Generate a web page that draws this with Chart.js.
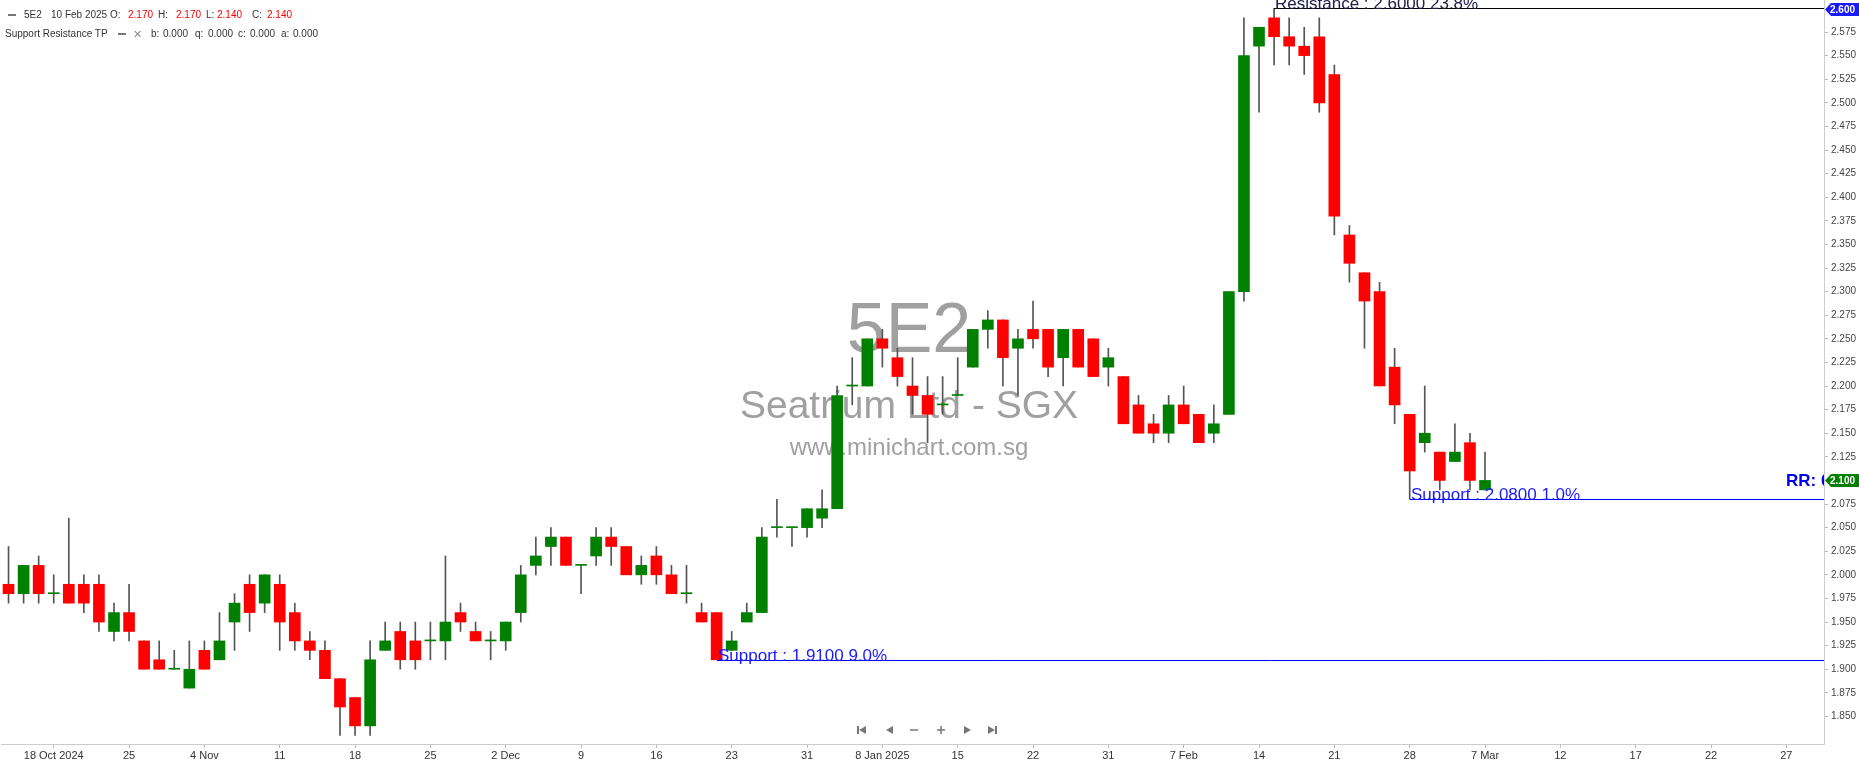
<!DOCTYPE html>
<html>
<head>
<meta charset="utf-8">
<script src="https://cdn.jsdelivr.net/npm/chart.js@4.4.1/dist/chart.umd.min.js"></script>
<style>
html, body { margin: 0; padding: 0; background: #fff; }
#wrap { position: relative; width: 1859px; height: 766px; overflow: hidden; }
#c { position: absolute; left: 0; top: 0; }
.hd { position: absolute; font: 10px "Liberation Sans", Arial, sans-serif; color: #333; white-space: nowrap; line-height: 12px; }
.red { color: #ff0000; }
.dash { position: absolute; height: 2px; width: 8px; background: #777; }
</style>
</head>
<body>
<div id="wrap">
<canvas id="c" width="1859" height="766"></canvas>
<div class="dash" style="left:8px;top:14px"></div>
<span class="hd" style="left:24px;top:9px">5E2</span>
<span class="hd" style="left:51px;top:9px">10 Feb 2025</span>
<span class="hd" style="left:110px;top:9px">O:</span>
<span class="hd red" style="left:128px;top:9px">2.170</span>
<span class="hd" style="left:158px;top:9px">H:</span>
<span class="hd red" style="left:176px;top:9px">2.170</span>
<span class="hd" style="left:206px;top:9px">L:</span>
<span class="hd red" style="left:217px;top:9px">2.140</span>
<span class="hd" style="left:252px;top:9px">C:</span>
<span class="hd red" style="left:267px;top:9px">2.140</span>
<span class="hd" style="left:5px;top:28px">Support Resistance TP</span>
<div class="dash" style="left:118px;top:33px"></div>
<span class="hd" style="left:133px;top:28px;color:#888;font-size:11px">✕</span>
<span class="hd" style="left:151px;top:28px">b:</span>
<span class="hd" style="left:163px;top:28px">0.000</span>
<span class="hd" style="left:195px;top:28px">q:</span>
<span class="hd" style="left:208px;top:28px">0.000</span>
<span class="hd" style="left:238px;top:28px">c:</span>
<span class="hd" style="left:250px;top:28px">0.000</span>
<span class="hd" style="left:281px;top:28px">a:</span>
<span class="hd" style="left:293px;top:28px">0.000</span>
</div>
<script>
// Seatrium (5E2) daily OHLC, 15 Oct 2024 -> 7 Mar 2025
const open = [
  1.99,1.98,2.01,1.98,1.99,1.99,1.99,1.94,1.96,1.93,
  1.91,1.90,1.88,1.92,1.91,1.95,1.99,1.97,1.99,1.96,
  1.93,1.92,1.89,1.87,1.84,1.92,1.94,1.93,1.93,1.93,
  1.96,1.94,1.93,1.93,1.96,2.01,2.03,2.04,2.01,2.02,
  2.04,2.03,2.00,2.02,2.00,1.98,1.96,1.96,1.92,1.95,
  1.96,2.05,2.05,2.05,2.06,2.07,2.20,2.20,2.25,2.23,
  2.20,2.19,2.18,2.19,2.22,2.26,2.27,2.24,2.26,2.26,
  2.23,2.26,2.25,2.22,2.21,2.18,2.16,2.15,2.18,2.17,
  2.15,2.17,2.30,2.56,2.59,2.57,2.56,2.57,2.53,2.36,
  2.32,2.30,2.22,2.17,2.14,2.13,2.12,2.14,2.09
];
const high = [
  2.03,2.01,2.02,2.00,2.06,2.00,2.00,1.97,1.99,1.93,
  1.93,1.92,1.93,1.93,1.96,1.98,2.00,2.00,2.00,1.97,
  1.94,1.93,1.89,1.87,1.93,1.95,1.95,1.95,1.95,2.02,
  1.97,1.95,1.94,1.95,2.01,2.04,2.05,2.04,2.01,2.05,
  2.05,2.03,2.02,2.03,2.01,2.01,1.97,1.96,1.94,1.97,
  2.05,2.08,2.05,2.07,2.09,2.20,2.23,2.25,2.26,2.24,
  2.23,2.21,2.21,2.23,2.26,2.28,2.27,2.26,2.29,2.26,
  2.26,2.26,2.25,2.24,2.21,2.19,2.17,2.19,2.20,2.17,
  2.18,2.30,2.59,2.58,2.60,2.59,2.58,2.59,2.54,2.37,
  2.32,2.31,2.24,2.17,2.20,2.13,2.16,2.15,2.13
];
const low = [
  1.97,1.97,1.97,1.97,1.97,1.96,1.94,1.93,1.93,1.90,
  1.90,1.90,1.88,1.90,1.91,1.92,1.94,1.96,1.92,1.92,
  1.91,1.89,1.83,1.83,1.83,1.92,1.90,1.90,1.91,1.91,
  1.94,1.93,1.91,1.92,1.95,2.00,2.01,2.01,1.98,2.01,
  2.01,2.00,1.99,1.99,1.98,1.97,1.95,1.91,1.92,1.95,
  1.96,2.04,2.03,2.04,2.05,2.07,2.18,2.20,2.22,2.20,
  2.17,2.14,2.17,2.19,2.22,2.24,2.20,2.19,2.24,2.21,
  2.20,2.22,2.21,2.20,2.16,2.15,2.14,2.14,2.16,2.14,
  2.14,2.17,2.29,2.49,2.54,2.54,2.53,2.49,2.36,2.31,
  2.24,2.20,2.16,2.08,2.13,2.09,2.12,2.09,2.09
];
const close = [
  1.98,2.01,1.98,1.98,1.97,1.97,1.95,1.96,1.94,1.90,
  1.90,1.90,1.90,1.90,1.93,1.97,1.96,2.00,1.95,1.93,
  1.92,1.89,1.86,1.84,1.91,1.93,1.91,1.91,1.93,1.95,
  1.95,1.93,1.93,1.95,2.00,2.02,2.04,2.01,2.01,2.04,
  2.03,2.00,2.01,2.00,1.98,1.98,1.95,1.91,1.93,1.96,
  2.04,2.05,2.05,2.07,2.07,2.19,2.20,2.25,2.24,2.21,
  2.19,2.17,2.18,2.19,2.26,2.27,2.23,2.25,2.25,2.22,
  2.26,2.22,2.21,2.23,2.16,2.15,2.15,2.18,2.16,2.14,
  2.16,2.30,2.55,2.58,2.57,2.56,2.55,2.50,2.38,2.33,
  2.29,2.20,2.18,2.11,2.15,2.10,2.13,2.10,2.10
];

// x axis: one label every 5 trading-day slots, starting at slot 3
const tickLabels = ['18 Oct 2024','25','4 Nov','11','18','25','2 Dec','9','16','23','31','8 Jan 2025',
  '15','22','31','7 Feb','14','21','28','7 Mar','12','17','22','27'];
const slotCount = 121;
const yTicks = [1.850,1.875,1.900,1.925,1.950,1.975,2.000,2.025,2.050,2.075,2.100,2.125,2.150,2.175,
  2.200,2.225,2.250,2.275,2.300,2.325,2.350,2.375,2.400,2.425,2.450,2.475,2.500,2.525,2.550,2.575];

// support / resistance levels
const levelValue = [2.60, 1.91, 2.08];
const levelFrom  = [84, 47, 93];
const levelText  = ['Resistance : 2.6000 23.8%', 'Support : 1.9100 9.0%', 'Support : 2.0800 1.0%'];
const levelColor = ['#000000', '#0000ff', '#0000ff'];
const levelTextColor = ['#20204e', '#1a1aff', '#1a1aff'];
const lastClose = 2.10;
const watermark = ['5E2', 'Seatrium Ltd - SGX', 'www.minichart.com.sg'];

const categories = [];
for (let i = 0; i < slotCount; i++) {
  categories.push((i - 3) % 5 === 0 ? tickLabels[(i - 3) / 5] : '');
}
const bodies = open.map((o, i) => [o, close[i]]);
const wicks = low.map((l, i) => [l, high[i]]);
const bodyColors = open.map((o, i) => close[i] >= o ? '#008000' : '#ff0000');

const FONT = '"Liberation Sans", Arial, sans-serif';

function badge(ctx, y, text, color) {
  const x0 = 1825, h = 13;
  ctx.fillStyle = color;
  ctx.beginPath();
  ctx.moveTo(x0, y);
  ctx.lineTo(x0 + 6, y - h / 2);
  ctx.lineTo(1859, y - h / 2);
  ctx.lineTo(1859, y + h / 2);
  ctx.lineTo(x0 + 6, y + h / 2);
  ctx.closePath();
  ctx.fill();
  ctx.fillStyle = '#fff';
  ctx.font = 'bold 10px ' + FONT;
  ctx.textAlign = 'left';
  ctx.textBaseline = 'middle';
  ctx.fillText(text, 1830, y + 0.5);
}

const overlay = {
  id: 'overlay',
  beforeDatasetsDraw(chart) {
    const ctx = chart.ctx;
    ctx.save();
    ctx.fillStyle = '#a0a0a0';
    ctx.textAlign = 'center';
    ctx.textBaseline = 'alphabetic';
    ctx.font = '70px ' + FONT;
    ctx.fillText(watermark[0], 909, 352);
    ctx.font = '39px ' + FONT;
    ctx.fillText(watermark[1], 909, 418);
    ctx.font = '24px ' + FONT;
    ctx.fillText(watermark[2], 909, 455);
    ctx.restore();
  },
  afterDatasetsDraw(chart) {
    const ctx = chart.ctx;
    const xs = chart.scales.x, ys = chart.scales.y;
    const area = chart.chartArea;
    ctx.save();
    ctx.beginPath();
    ctx.rect(area.left, 0, area.right - area.left, area.bottom);
    ctx.clip();
    levelValue.forEach((v, k) => {
      const x = Math.round(xs.getPixelForValue(levelFrom[k]));
      const y = Math.round(ys.getPixelForValue(v)) + 0.5;
      ctx.strokeStyle = levelColor[k];
      ctx.lineWidth = 1;
      ctx.beginPath();
      ctx.moveTo(x, y);
      ctx.lineTo(area.right, y);
      ctx.stroke();
      ctx.fillStyle = levelTextColor[k];
      ctx.font = '17px ' + FONT;
      ctx.textAlign = 'left';
      ctx.textBaseline = 'alphabetic';
      ctx.fillText(levelText[k], x + 1, y + 0.5);
    });
    ctx.fillStyle = '#0000e6';
    ctx.font = 'bold 17px ' + FONT;
    ctx.fillText('RR: 0.23', 1786, 486);
    ctx.restore();
  },
  afterDraw(chart) {
    const ctx = chart.ctx;
    const ys = chart.scales.y;
    ctx.save();
    badge(ctx, ys.getPixelForValue(levelValue[0]) + 1, '2.600', '#1a1aff');
    badge(ctx, ys.getPixelForValue(lastClose), '2.100', '#008000');
    // navigation buttons
    const y = 730;
    ctx.fillStyle = '#777';
    ctx.strokeStyle = '#777';
    ctx.lineWidth = 1.5;
    ctx.fillRect(857, y - 4, 2, 8);
    ctx.beginPath(); ctx.moveTo(859, y); ctx.lineTo(866, y - 4); ctx.lineTo(866, y + 4); ctx.fill();
    ctx.beginPath(); ctx.moveTo(886, y); ctx.lineTo(893, y - 4); ctx.lineTo(893, y + 4); ctx.fill();
    ctx.beginPath(); ctx.moveTo(910, y); ctx.lineTo(918, y); ctx.stroke();
    ctx.beginPath(); ctx.moveTo(937, y); ctx.lineTo(945, y); ctx.moveTo(941, y - 4); ctx.lineTo(941, y + 4); ctx.stroke();
    ctx.beginPath(); ctx.moveTo(971, y); ctx.lineTo(964, y - 4); ctx.lineTo(964, y + 4); ctx.fill();
    ctx.beginPath(); ctx.moveTo(995, y); ctx.lineTo(988, y - 4); ctx.lineTo(988, y + 4); ctx.fill();
    ctx.fillRect(995, y - 4, 2, 8);
    ctx.restore();
  }
};

new Chart(document.getElementById('c'), {
  type: 'bar',
  data: {
    labels: categories,
    datasets: [{
      data: bodies,
      backgroundColor: bodyColors,
      barThickness: 11,
      minBarLength: 1,
      grouped: false
    }, {
      data: wicks,
      backgroundColor: '#555555',
      barThickness: 1,
      grouped: false
    }]
  },
  options: {
    responsive: false,
    animation: false,
    layout: { padding: { left: 1, right: 0, top: 0, bottom: 0 } },
    plugins: { legend: { display: false }, tooltip: { enabled: false } },
    scales: {
      x: {
        offset: true,
        grid: { offset: false, drawOnChartArea: false, drawTicks: true, tickLength: 4, color: '#bbbbbb' },
        border: { color: '#cccccc' },
        ticks: {
          autoSkip: false,
          maxRotation: 0,
          padding: 1,
          color: '#333',
          font: { family: FONT, size: 11 },
          callback: function(value, index) {
            return categories[index] === '' ? null : categories[index];
          }
        },
        afterFit: function(scale) {
          scale.height = 22;
          scale.paddingLeft = 0;
          scale.paddingRight = 0;
        }
      },
      y: {
        position: 'right',
        min: 1.8208,
        max: 2.6089,
        grid: { drawOnChartArea: false, drawTicks: true, tickLength: 4, color: '#bbbbbb' },
        border: { color: '#cccccc' },
        ticks: {
          padding: 3,
          color: '#444',
          font: { family: FONT, size: 10 },
          callback: function(value) { return value.toFixed(3); }
        },
        afterBuildTicks: function(scale) {
          scale.ticks = yTicks.map(v => ({ value: v }));
        },
        afterFit: function(scale) {
          scale.width = 35;
          scale.paddingTop = 0;
          scale.paddingBottom = 0;
        }
      }
    }
  },
  plugins: [overlay]
});
</script>
</body>
</html>
